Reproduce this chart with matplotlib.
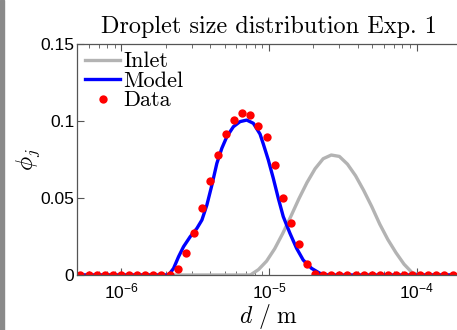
import numpy as np
import matplotlib
matplotlib.use('Agg')
import matplotlib.pyplot as plt
from matplotlib.patches import Rectangle

# measurement grid (droplet diameter, m) shared by data and inlet
d_grid = [5.28e-7, 5.99e-7, 6.80e-7, 7.72e-7, 8.75e-7, 9.93e-7, 1.127e-6,
          1.279e-6, 1.451e-6, 1.646e-6, 1.866e-6, 2.118e-6, 2.403e-6,
          2.726e-6, 3.093e-6, 3.508e-6, 3.980e-6, 4.515e-6, 5.122e-6,
          5.810e-6, 6.592e-6, 7.478e-6, 8.484e-6, 9.625e-6, 1.092e-5,
          1.239e-5, 1.405e-5, 1.594e-5, 1.808e-5, 2.052e-5, 2.328e-5,
          2.641e-5, 2.996e-5, 3.399e-5, 3.856e-5, 4.375e-5, 4.963e-5,
          5.630e-5, 6.387e-5, 7.246e-5, 8.222e-5, 9.328e-5, 1.058e-4,
          1.200e-4, 1.362e-4, 1.545e-4, 1.753e-4]

data_phi = [0, 0, 0, 0, 0, 0, 0, 0, 0, 0, 0, 0,
            0.0039, 0.0143, 0.0272, 0.0438, 0.0613, 0.0780, 0.0918, 0.1005,
            0.1052, 0.1036, 0.0967, 0.0893, 0.0712, 0.0497, 0.0335, 0.0201,
            0.0070, 0.0005,
            0, 0, 0, 0, 0, 0, 0, 0, 0, 0, 0, 0, 0, 0, 0, 0, 0]

inlet_phi = [0, 0, 0, 0, 0, 0, 0, 0, 0, 0, 0, 0, 0, 0, 0, 0, 0, 0, 0, 0, 0,
             0.0, 0.0035, 0.0090, 0.0170, 0.0270, 0.0380, 0.0495, 0.0600,
             0.0690, 0.0755, 0.0779, 0.0770, 0.0720, 0.0645, 0.0550, 0.0445,
             0.0330, 0.0230, 0.0145, 0.0070, 0.0015, 0.0,
             0, 0, 0, 0]

model_d = [5.0e-7, 1.834e-6, 2.088e-6, 2.256e-6, 2.439e-6, 2.636e-6, 2.925e-6,
           3.247e-6, 3.510e-6, 3.794e-6, 4.101e-6, 4.432e-6, 4.791e-6,
           5.178e-6, 5.737e-6, 6.368e-6, 7.067e-6, 7.832e-6, 8.693e-6,
           9.152e-6, 9.892e-6, 1.069e-5, 1.156e-5, 1.249e-5, 1.386e-5,
           1.538e-5, 1.705e-5, 1.943e-5, 2.211e-5, 2.516e-5, 2.0e-4]
model_phi = [0, 0, 0, 0.0043, 0.0119, 0.0184, 0.0249, 0.0303, 0.0357, 0.0455,
             0.0584, 0.0725, 0.0823, 0.0898, 0.0963, 0.0996, 0.1006, 0.0985,
             0.0915, 0.0850, 0.0747, 0.0628, 0.0498, 0.0379, 0.0271, 0.0173,
             0.0097, 0.0043, 0.0011, 0, 0]

plt.rcParams['font.family'] = 'Liberation Sans'
plt.rcParams['mathtext.fontset'] = 'custom'
plt.rcParams['mathtext.rm'] = 'Liberation Sans'

fig = plt.figure(figsize=(4.57, 3.30), dpi=100)
ax = fig.add_axes([0.1685, 0.1667, 0.8403, 0.70])

# dark strip on the left border of the screenshot
fig.patches.append(Rectangle((0, 0), 4 / 457, 1, transform=fig.transFigure,
                             color='#8a8a8a', zorder=0))

ax.plot(d_grid, inlet_phi, color='#b3b3b3', lw=2.4, label='Inlet')
ax.plot(model_d, model_phi, color='#0000ff', lw=2.4, label='Model')
ax.plot(d_grid, data_phi, 'o', color='#ff0000', ms=6, mec='none', label='Data')

ax.set_xscale('log')
ax.set_xlim(5e-7, 2e-4)
ax.set_ylim(0, 0.15)
ax.set_yticks([0, 0.05, 0.1, 0.15])
ax.set_yticklabels(['0', '0.05', '0.1', '0.15'])

ax.tick_params(which='both', direction='in', top=True, right=False,
               labelsize=12.5, color='#555555')
ax.tick_params(which='major', length=5, pad=5)
ax.tick_params(which='minor', length=3)
ax.tick_params(axis='y', pad=2)
for s in ax.spines.values():
    s.set_color('#555555')
    s.set_linewidth(0.9)

ax.set_title('Droplet size distribution Exp. 1', fontfamily='cmr10',
             fontsize=17.5, pad=8)
ax.set_xlabel(r'$d\ /\ \mathrm{m}$', fontsize=17, math_fontfamily='cm',
              labelpad=0)
ax.set_ylabel(r'$\phi_j$', fontsize=17, math_fontfamily='cm', labelpad=-1)

leg = ax.legend(loc='upper left', frameon=False, prop={'family': 'cmr10', 'size': 16},
                handlelength=1.6, handletextpad=0.12, labelspacing=0.0,
                borderaxespad=0.2, borderpad=0.15)

fig.savefig('out.png', dpi=100)
